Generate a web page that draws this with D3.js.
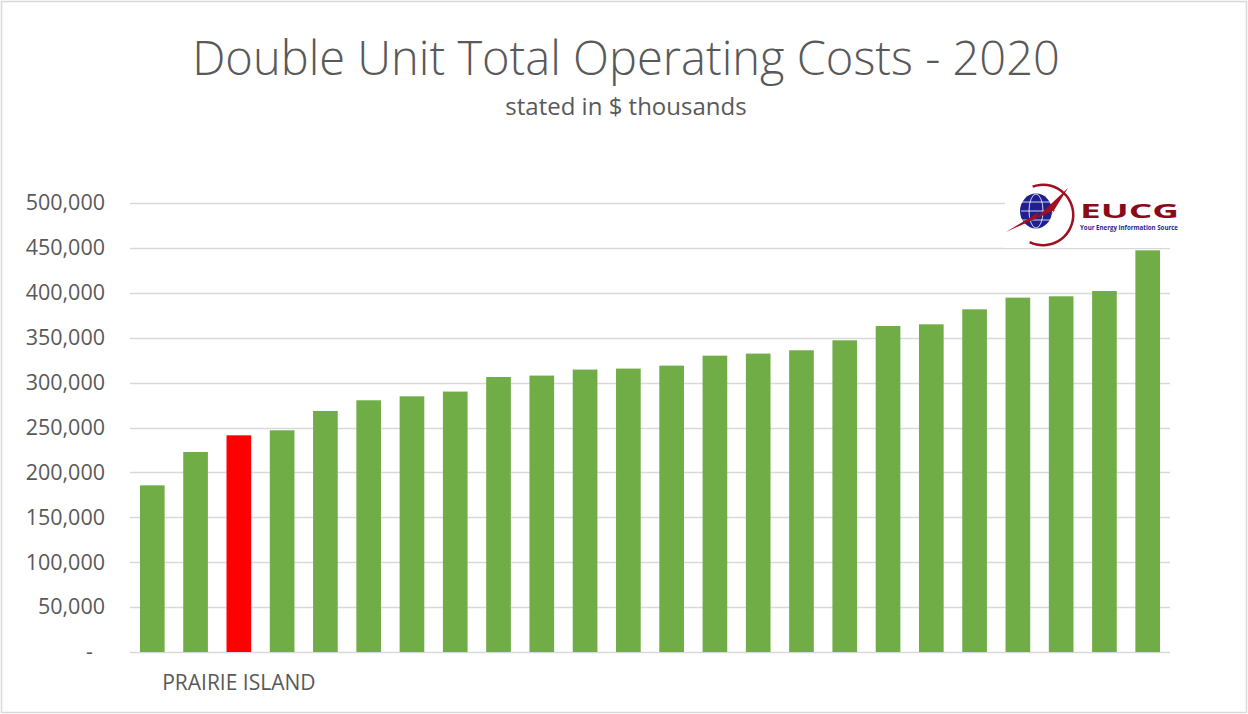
<!DOCTYPE html>
<html>
<head>
<meta charset="utf-8">
<script src="https://cdn.jsdelivr.net/npm/d3@7"></script>
<style>
  body { margin: 0; background: #fff; }
  text { font-family: "Open Sans", "Noto Sans", sans-serif; }
</style>
</head>
<body>
<svg id="chart" width="1248" height="714"></svg>
<script>
"use strict";

// plant costs, sorted ascending (values in $ thousands)
const plants = d3.range(1, 25).map(i => "P" + i);
const costs = [185600, 222700, 241300, 246900, 268400, 280300, 284700, 290000,
               306200, 307800, 314500, 315600, 318900, 330000, 332300, 336000,
               347100, 363000, 364900, 381600, 394600, 396100, 402000, 447300];
const highlight = "P3";
const highlightLabel = "PRAIRIE ISLAND";
const yTicks = [0, 50000, 100000, 150000, 200000, 250000, 300000, 350000, 400000, 450000, 500000];

const svg = d3.select('#chart');
const margin = {top: 203, right: 78, bottom: 62, left: 130};
const width = 1248, height = 714;
const innerW = width - margin.left - margin.right;
const innerH = height - margin.top - margin.bottom;

// chart border
svg.append('rect')
    .attr('x', 1.5).attr('y', 1.5)
    .attr('width', width - 3).attr('height', height - 3)
    .attr('fill', 'none').attr('stroke', '#d9d9d9').attr('stroke-width', 1.5);

// titles
svg.append('text')
    .attr('x', 626).attr('y', 75)
    .attr('text-anchor', 'middle')
    .attr('font-size', 47).attr('font-weight', 300)
    .attr('fill', '#595959')
    .text('Double Unit Total Operating Costs - 2020');
svg.append('text')
    .attr('x', 626).attr('y', 115)
    .attr('text-anchor', 'middle')
    .attr('font-size', 24)
    .attr('fill', '#595959')
    .text('stated in $ thousands');

const g = svg.append('g').attr('transform', `translate(${margin.left},${margin.top})`);

const x = d3.scaleBand().domain(plants).range([0, innerW]).paddingInner(0.43).paddingOuter(0.23);
const y = d3.scaleLinear().domain([0, 500000]).range([innerH, 0]);

// gridlines
g.selectAll('line.grid').data(yTicks)
    .enter().append('line')
    .attr('class', 'grid')
    .attr('x1', 0).attr('x2', innerW)
    .attr('y1', d => Math.round(y(d)) + 0.5).attr('y2', d => Math.round(y(d)) + 0.5)
    .attr('stroke', '#d9d9d9').attr('stroke-width', 1.5);

// y axis labels
const fmt = d3.format(',');
const yAxis = d3.axisLeft(y).tickValues(yTicks).tickSize(0).tickPadding(25)
    .tickFormat(d => d === 0 ? '-' : fmt(d));
const ya = g.append('g').call(yAxis);
ya.select('.domain').remove();
ya.selectAll('text')
    .attr('font-family', '"Open Sans", "Noto Sans", sans-serif')
    .attr('font-size', 21.5).attr('fill', '#595959');
ya.selectAll('.tick').filter(d => d === 0).select('text').attr('dx', -12);

// bars
g.selectAll('rect.bar').data(plants)
    .enter().append('rect')
    .attr('class', 'bar')
    .attr('x', d => x(d))
    .attr('width', x.bandwidth())
    .attr('y', (d, i) => y(costs[i]))
    .attr('height', (d, i) => innerH - y(costs[i]))
    .attr('fill', d => d === highlight ? '#ff0000' : '#70ad47');

// category label for highlighted plant
g.append('text')
    .attr('x', x(highlight) + x.bandwidth() / 2)
    .attr('y', innerH + 38)
    .attr('text-anchor', 'middle')
    .attr('font-size', 21).attr('fill', '#595959')
    .text(highlightLabel);

// EUCG logo (white box covers gridlines)
const logo = svg.append('g').attr('transform', 'translate(1005,182)');
logo.append('rect').attr('width', 176).attr('height', 66).attr('fill', '#fff');
logo.append('path')
    .attr('d', d3.arc()({innerRadius: 29, outerRadius: 31.5, startAngle: -0.35, endAngle: 3.6}))
    .attr('transform', 'translate(38,33)')
    .attr('fill', '#a01020');
logo.append('ellipse')
    .attr('cx', 31).attr('cy', 29).attr('rx', 16).attr('ry', 17.5)
    .attr('fill', '#1f1f8f');
[-9, 0, 9].forEach(o => {
    logo.append('line').attr('x1', 16).attr('x2', 46).attr('y1', 29 + o).attr('y2', 29 + o)
        .attr('stroke', '#fff').attr('stroke-width', 0.8);
});
logo.append('ellipse')
    .attr('cx', 31).attr('cy', 29).attr('rx', 7).attr('ry', 17)
    .attr('fill', 'none').attr('stroke', '#fff').attr('stroke-width', 0.8);
logo.append('path')
    .attr('d', 'M1,50 L34,30 L31,36 L63,6 L46,33 L50,28 Z')
    .attr('fill', '#a01020');
logo.append('text')
    .attr('x', 75).attr('y', 36)
    .attr('font-family', '"DejaVu Sans", sans-serif')
    .attr('font-weight', 'bold').attr('font-size', 20)
    .attr('textLength', 99).attr('lengthAdjust', 'spacingAndGlyphs')
    .attr('fill', '#8b0a1a')
    .text('EUCG');
logo.append('text')
    .attr('x', 75).attr('y', 47.5)
    .attr('font-family', '"Liberation Sans", sans-serif')
    .attr('font-weight', 'bold').attr('font-size', 6.5)
    .attr('textLength', 98).attr('lengthAdjust', 'spacingAndGlyphs')
    .attr('fill', '#1f1f8f')
    .text('Your Energy Information Source');
</script>
</body>
</html>
